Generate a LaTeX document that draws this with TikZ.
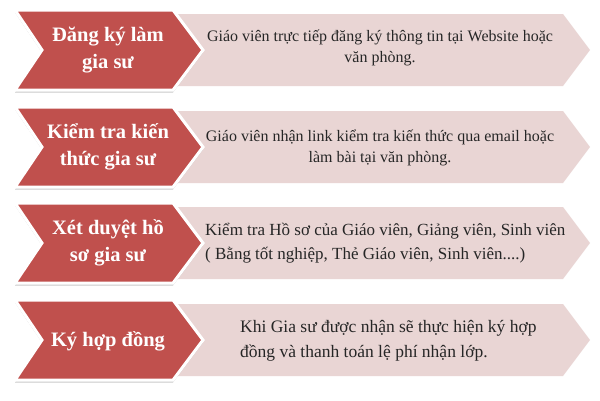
\documentclass[tikz,border=0pt]{standalone}
\usepackage{fontspec}
\setmainfont{Liberation Serif}
\usetikzlibrary{shadows}
\definecolor{redbox}{HTML}{C0504D}
\definecolor{pinkbox}{HTML}{E9D5D4}
\tikzset{
  redarrow/.style={fill=redbox, draw=white, line width=3pt, line join=miter,
    drop shadow={shadow xshift=0pt, shadow yshift=-2.5pt, opacity=0.35, fill=black!60}},
  pinkarrow/.style={fill=pinkbox, draw=none},
  redtext/.style={text=white, font=\bfseries\fontsize{20.5}{27}\selectfont, align=center, inner sep=0pt},
  desctext/.style={text=black!85, inner sep=0pt},
}
\begin{document}
\begin{tikzpicture}[x=1pt, y=-1pt]
\useasboundingbox (0,0) rectangle (600,400);
\fill[white] (0,0) rectangle (600,400);
\foreach \t in {10,107,203,300}{
  \path[pinkarrow] (170,\t+4) -- (563,\t+4) -- (590,\t+40) -- (563,\t+76) -- (170,\t+76) -- cycle;
  \path[redarrow] (15,\t) -- (173,\t) -- (203,\t+40) -- (173,\t+80) -- (15,\t+80) -- (42,\t+40) -- cycle;
}
\node[redtext] (r1) at (108,50) {Đăng ký làm\\gia sư};
\node[redtext] (r2) at (108,147) {Kiểm tra kiến\\thức gia sư};
\node[redtext] (r3) at (108,243) {Xét duyệt hồ\\sơ gia sư};
\node[redtext] (r4) at (108,341) {Ký hợp đồng};
\node[desctext, align=center, font=\fontsize{16}{20.5}\selectfont] (d1) at (380,48)
  {Giáo viên trực tiếp đăng ký thông tin tại Website hoặc\\văn phòng.};
\node[desctext, align=center, font=\fontsize{16}{20.5}\selectfont] (d2) at (380,148)
  {Giáo viên nhận link kiểm tra kiến thức qua email hoặc\\làm bài tại văn phòng.};
\node[desctext, align=left, anchor=west, font=\fontsize{17}{24}\selectfont] (d3) at (205,243)
  {Kiểm tra Hồ sơ của Giáo viên, Giảng viên, Sinh viên\\( Bằng tốt nghiệp, Thẻ Giáo viên, Sinh viên....)};
\node[desctext, align=left, anchor=west, font=\fontsize{17.5}{25}\selectfont] (d4) at (240,341)
  {Khi Gia sư được nhận sẽ thực hiện ký hợp\\đồng và thanh toán lệ phí nhận lớp.};
\end{tikzpicture}
\end{document}
